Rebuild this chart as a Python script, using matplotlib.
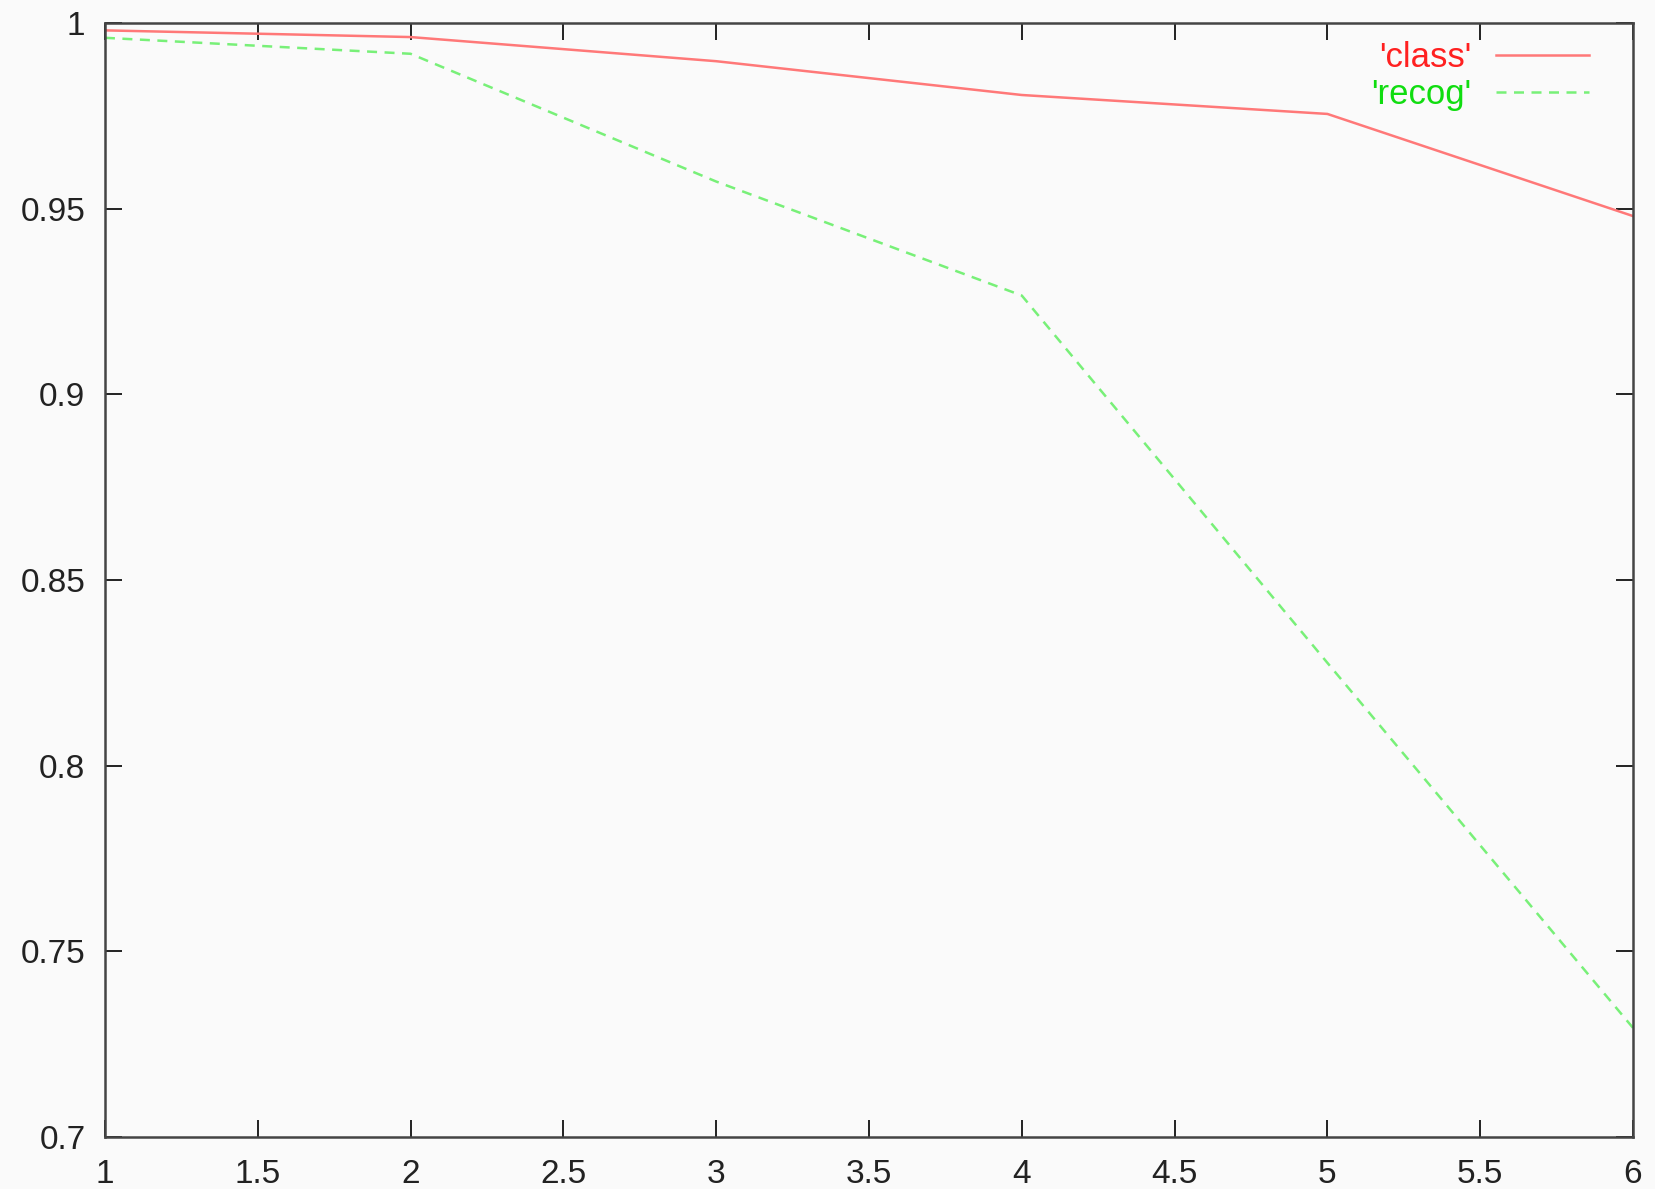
import matplotlib
matplotlib.use('Agg')
import matplotlib.pyplot as plt

plt.rcParams['font.family'] = ['Liberation Sans', 'DejaVu Sans']

# data
x_vals = [1, 2, 3, 4, 5, 6]
class_vals = [0.998, 0.9962, 0.9897, 0.9806, 0.9755, 0.9480]
recog_vals = [0.9960, 0.9917, 0.9573, 0.9266, 0.8277, 0.7294]
x_ticks = [1, 1.5, 2, 2.5, 3, 3.5, 4, 4.5, 5, 5.5, 6]
y_ticks = [0.7, 0.75, 0.8, 0.85, 0.9, 0.95, 1.0]
y_labels = ['0.7', '0.75', '0.8', '0.85', '0.9', '0.95', '1']

fig = plt.figure(figsize=(16.55, 11.89), dpi=100)
fig.patch.set_facecolor('#fafafa')
ax = fig.add_axes([0.0634, 0.0437, 0.9233, 0.937])
ax.set_facecolor('#fafafa')

ax.plot(x_vals, class_vals, color='#ff7878', lw=1.8, label="'class'")
ax.plot(x_vals, recog_vals, color='#78f078', lw=1.8, ls=(0, (4, 3)), label="'recog'")

ax.set_xlim(1, 6)
ax.set_ylim(0.7, 1.0)
ax.set_xticks(x_ticks)
ax.set_xticklabels(['%g' % t for t in x_ticks])
ax.set_yticks(y_ticks)
ax.set_yticklabels(y_labels)

ax.tick_params(direction='in', length=12, width=1.4, labelsize=24, pad=14,
               top=True, right=True, colors='#222222')
ax.tick_params(axis='x', pad=16)
for s in ax.spines.values():
    s.set_linewidth(1.8)
    s.set_color('#444444')

leg = ax.legend(loc='upper right', bbox_to_anchor=(0.9805, 0.996), frameon=False,
                borderaxespad=0, markerfirst=False, fontsize=25, handlelength=2.7,
                handletextpad=0.7, labelspacing=0.1,
                labelcolor=['#ff2020', '#10dd10'])

fig.savefig('out.png', dpi=100, facecolor=fig.get_facecolor())
